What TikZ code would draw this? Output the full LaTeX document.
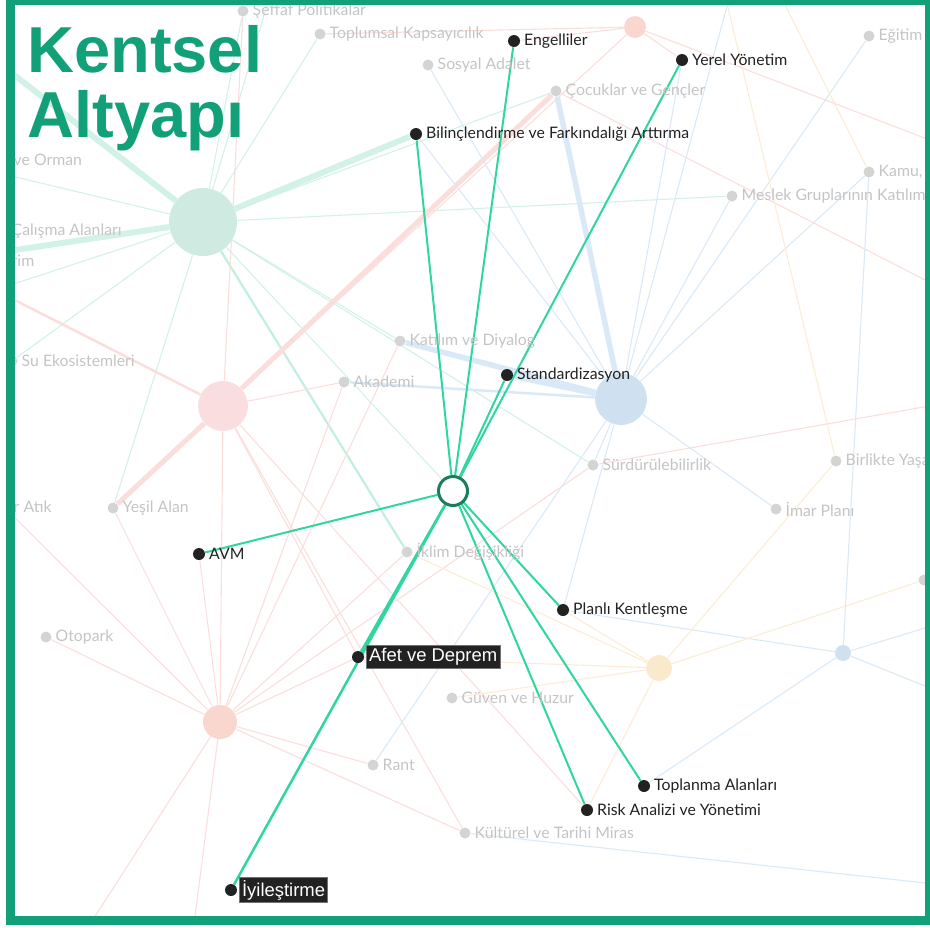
\documentclass[tikz,border=0pt]{standalone}
\usepackage{fontspec}
\setmainfont{Lato}
\newfontfamily\headfont{Liberation Sans}
\usetikzlibrary{positioning}
\pgfdeclarelayer{edges}
\pgfsetlayers{edges,main}

\definecolor{brandgreen}{RGB}{18,160,120}
\definecolor{linkgreen}{RGB}{48,214,160}
\definecolor{ringgreen}{RGB}{28,125,90}
\definecolor{dotblack}{RGB}{34,34,34}
\definecolor{dotgrey}{RGB}{212,212,212}
\definecolor{textgrey}{RGB}{196,196,196}
\definecolor{mintedge}{RGB}{210,242,231}
\definecolor{pinkedge}{RGB}{251,222,220}
\definecolor{blueedge}{RGB}{218,233,248}
\definecolor{peachedge}{RGB}{252,236,212}
\definecolor{mintfill}{RGB}{207,234,225}
\definecolor{pinkfill}{RGB}{250,221,223}
\definecolor{bluefill}{RGB}{207,225,240}
\definecolor{salmonfill}{RGB}{250,215,206}
\definecolor{peachfill}{RGB}{251,233,206}

\begin{document}
\begin{tikzpicture}[x=0.02cm,y=-0.02cm]
\tikzstyle{topic}=[circle, fill=dotblack, inner sep=0pt, minimum size=0.24cm]
\tikzstyle{faded}=[circle, fill=dotgrey, inner sep=0pt, minimum size=0.22cm]
\tikzstyle{darktext}=[font=\fontsize{9}{10}\selectfont, text=dotblack, inner sep=1pt, label distance=1pt]
\tikzstyle{greytext}=[font=\fontsize{9}{10}\selectfont, text=textgrey, inner sep=1pt, label distance=1pt]
\tikzstyle{picked}=[font=\headfont\fontsize{10.5}{12}\selectfont, text=white, fill=dotblack, draw=black!55, inner sep=1.5pt, label distance=1pt]
\tikzstyle{cluster}=[circle, inner sep=0pt]
\tikzstyle{hub}=[circle, draw=ringgreen, fill=white, line width=0.06cm, inner sep=0pt, minimum size=0.58cm]
\tikzstyle{link}=[linkgreen, line width=0.04cm]
\tikzstyle{title}=[font=\headfont\bfseries\fontsize{37}{37}\selectfont, text=brandgreen, inner sep=0pt, anchor=base west]

\useasboundingbox (0,0) rectangle (930,927);

\begin{scope}
\clip (10.5,0.5) rectangle (929.5,920);
% cluster circles
\node[cluster, fill=mintfill, minimum size=1.36cm] (grn) at (203,222) {};
\node[cluster, fill=pinkfill, minimum size=1.0cm] (pnk) at (223,406) {};
\node[cluster, fill=bluefill, minimum size=1.04cm] (blu) at (621,399) {};
\node[cluster, fill=salmonfill, minimum size=0.68cm] (sal) at (220,722) {};
\node[cluster, fill=salmonfill, minimum size=0.44cm] (saltop) at (635,27) {};
\node[cluster, fill=peachfill, minimum size=0.52cm] (pch) at (659,668) {};
\node[cluster, fill=bluefill, minimum size=0.32cm] (sblu) at (843,653) {};

% other topics
\node[faded, label={[greytext]right:Şeffaf Politikalar}] (seffaf) at (243,11) {};
\node[faded, label={[greytext]right:Toplumsal Kapsayıcılık}] (toplum) at (320,34) {};
\node[faded, label={[greytext]right:Sosyal Adalet}] (sosyal) at (428,65) {};
\node[faded, label={[greytext]right:Çocuklar ve Gençler}] (cocuk) at (556,91) {};
\node[faded, label={[greytext]right:Eğitim}] (egitim) at (869,36) {};
\node[faded, label={[greytext]right:Kamu,}] (kamu) at (869,172) {};
\node[faded, label={[greytext]right:Meslek Gruplarının Katılım}] (meslek) at (732,196) {};
\node[faded, label={[greytext]right:Katılım ve Diyalog}] (katilim) at (400,341) {};
\node[faded, label={[greytext]right:Akademi}] (akademi) at (344,382) {};
\node[faded, label={[greytext]right:Sürdürülebilirlik}] (surd) at (593,465) {};
\node[faded, label={[greytext]right:Birlikte Yaşa}] (birlikte) at (836,461) {};
\node[faded, label={[greytext]right:İmar Planı}] (imar) at (776,509) {};
\node[faded, label={[greytext]right:İklim Değişikliği}] (iklim) at (407,552) {};
\node[faded, label={[greytext]right:Yeşil Alan}] (yesil) at (113,508) {};
\node[faded, label={[greytext]right:r Atık}] (atik) at (4,507) {};
\node[faded, label={[greytext]right:ve Orman}] (orman) at (4,160) {};
\node[faded, label={[greytext]right:Çalışma Alanları}] (calisma) at (2,231) {};
\node[faded, label={[greytext]right:rim}] (rim) at (2,261) {};
\node[faded, label={[greytext]right:Su Ekosistemleri}] (su) at (12,361) {};
\node[faded, label={[greytext]right:Otopark}] (otopark) at (46,637) {};
\node[faded, label={[greytext]right:Güven ve Huzur}] (guven) at (452,698) {};
\node[faded, label={[greytext]right:Rant}] (rant) at (373,765) {};
\node[faded, label={[greytext]right:Kültürel ve Tarihi Miras}] (kultur) at (465,833) {};
\node[faded] (rdot) at (924,580) {};

% loose ends past the frame
\coordinate (w0) at (-5,60);
\coordinate (w1) at (-5,172);
\coordinate (w2) at (-5,253);
\coordinate (w3) at (-5,290);
\coordinate (t0) at (270,-5);
\coordinate (t1) at (730,-5);
\coordinate (t2) at (725,-5);
\coordinate (t3) at (780,-5);
\coordinate (b1) at (85,932);
\coordinate (b2) at (193,932);
\coordinate (e1) at (935,142);
\coordinate (e2) at (935,285);
\coordinate (e3) at (935,405);
\coordinate (e4) at (935,625);
\coordinate (e5) at (935,690);
\coordinate (e6) at (935,884);

% selected node
\node[hub] (hub) at (453,491) {};
\node[topic, label={[darktext]right:Engelliler}] (engel) at (514,41) {};
\node[topic, label={[darktext]right:Yerel Yönetim}] (yerel) at (682,60) {};
\node[topic, label={[darktext]right:Bilinçlendirme ve Farkındalığı Arttırma}] (bil) at (416,134) {};
\node[topic, label={[darktext]right:Standardizasyon}] (std) at (507,375) {};
\node[topic, label={[darktext]right:AVM}] (avm) at (199,554) {};
\node[topic, label={[darktext]right:Planlı Kentleşme}] (planli) at (563,610) {};
\node[topic, label={[darktext]right:Toplanma Alanları}] (toplan) at (644,786) {};
\node[topic, label={[darktext]right:Risk Analizi ve Yönetimi}] (risk) at (587,810) {};
\node[topic, label={[picked]right:Afet ve Deprem}] (afet) at (358,657) {};
\node[topic, label={[picked]right:İyileştirme}] (iyi) at (231,890) {};
\end{scope}

\begin{pgfonlayer}{edges}
\clip (10.5,0.5) rectangle (929.5,920);
% background links
\foreach \i/\j in {grn/t0,grn/seffaf,grn/toplum,grn/w1,grn/w3,grn/su,grn/yesil,grn/katilim,grn/surd,grn/meslek,grn/cocuk,grn/hub}{\draw[mintedge, line width=0.022cm] (\i) -- (\j);}
\foreach \i/\j in {grn/iklim}{\draw[mintedge!90!linkgreen, line width=0.045cm] (\i) -- (\j);}
\foreach \i/\j in {grn/bil,grn/w2,grn/w0}{\draw[mintedge, line width=0.12cm] (\i) -- (\j);}
\foreach \i/\j in {pnk/akademi,pnk/seffaf,pnk/afet,pnk/kultur,pnk/risk,pnk/sal,saltop/pnk,sal/katilim,surd/e3,surd/sal,saltop/e1,cocuk/e2,saltop/toplum,saltop/yerel,saltop/engel,sal/otopark,sal/atik,sal/yesil,sal/akademi,sal/b1,sal/b2,sal/rant,sal/kultur,sal/avm,sal/afet,sal/iklim}{\draw[pinkedge, line width=0.022cm] (\i) -- (\j);}
\foreach \i/\j in {pnk/w3}{\draw[pinkedge, line width=0.05cm] (\i) -- (\j);}
\foreach \i/\j in {pnk/cocuk,pnk/yesil}{\draw[pinkedge, line width=0.1cm] (\i) -- (\j);}
\foreach \i/\j in {blu/yerel,blu/egitim,blu/kamu,blu/meslek,blu/imar,blu/t1,blu/planli,blu/rant,blu/sosyal,blu/bil,blu/surd,sblu/kamu,sblu/toplan,sblu/planli,sblu/e4,sblu/e5,kultur/e6}{\draw[blueedge, line width=0.022cm] (\i) -- (\j);}
\foreach \i/\j in {blu/akademi}{\draw[blueedge, line width=0.05cm] (\i) -- (\j);}
\foreach \i/\j in {blu/std,blu/katilim,blu/cocuk}{\draw[blueedge, line width=0.11cm] (\i) -- (\j);}
\foreach \i/\j in {pch/afet,pch/guven,pch/risk,pch/planli,pch/birlikte,pch/rdot,pch/iklim,birlikte/t2,kamu/t3}{\draw[peachedge, line width=0.022cm] (\i) -- (\j);}

% links of the selected node
\foreach \i in {engel,yerel,bil,std,avm,planli,toplan,risk}{\draw[link] (hub) -- (\i);}
\foreach \i in {afet,iyi}{\draw[link, line width=0.05cm] (hub) -- (\i);}
\end{pgfonlayer}

\node[title] (kentsel) at (27,72) {Kentsel};
\node[title] (altyapi) at (27,137) {Altyapı};
\draw[brandgreen, line width=0.18cm] (10.5,0.5) rectangle (929.5,920);
\end{tikzpicture}
\end{document}
